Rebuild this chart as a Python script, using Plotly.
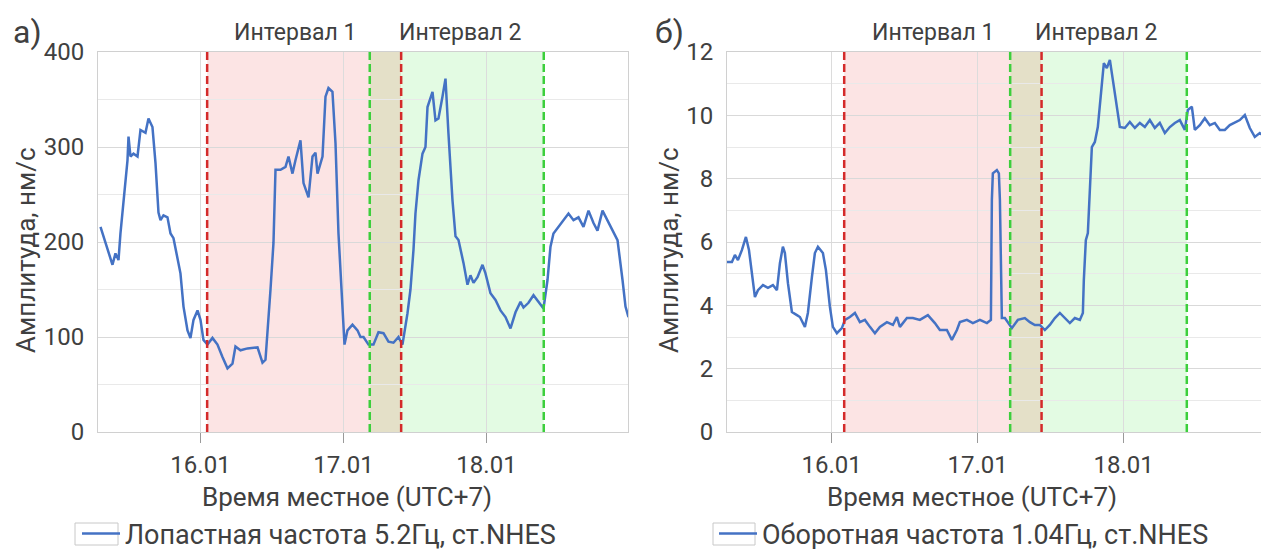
import pandas as pd
import plotly.graph_objects as go

# ---------------- data (hours from 16.01 00:00, local time) ----------------
base_day = "2021-01-16 00:00"
x_range_hours = [-17.2, 71.75]

hours_a = [-16.78, -14.77, -14.27, -13.76, -13.43, -12.25, -12.08, -11.75, -11.24, -10.57,
           -10.07, -9.23, -8.73, -8.06, -7.55, -7.05, -6.71, -6.21, -5.54, -5.03,
           -4.53, -3.36, -2.85, -2.18, -1.68, -1.17, -0.50, 0.0, 0.50, 1.17,
           2.01, 2.85, 3.69, 4.53, 5.37, 5.87, 6.71, 7.89, 9.57, 10.41,
           10.91, 11.41, 11.75, 12.25, 12.59, 13.43, 14.27, 14.77, 15.44, 15.94,
           16.78, 17.29, 18.13, 18.80, 19.30, 19.64, 20.48, 20.98, 21.48, 22.15,
           22.66, 23.16, 23.83, 24.17, 24.67, 25.51, 26.35, 26.85, 27.36, 28.20,
           29.03, 29.87, 30.71, 31.55, 32.39, 33.23, 33.90, 34.74, 35.24, 35.75,
           36.08, 36.59, 37.26, 37.76, 38.10, 38.94, 39.44, 39.94, 40.61, 41.12,
           41.62, 42.29, 42.80, 43.30, 44.14, 44.81, 45.31, 45.82, 46.49, 47.33,
           47.83, 48.67, 49.51, 50.35, 51.19, 52.03, 52.87, 53.71, 54.21, 55.05,
           55.89, 56.73, 57.57, 58.24, 58.74, 59.24, 60.08, 60.92, 61.76, 62.60,
           63.44, 64.28, 65.12, 65.96, 66.63, 67.47, 68.31, 69.15, 69.99, 70.83,
           71.33, 71.83]
values_a = [216, 176, 188, 181, 209, 286, 311, 290, 293, 290,
            318, 315, 330, 321, 283, 231, 223, 228, 226, 209,
            204, 167, 132, 107, 99, 118, 128, 118, 97, 92,
            99, 92, 79, 67, 72, 90, 86, 88, 89, 73,
            76, 115, 150, 199, 276, 276, 279, 290, 272, 286,
            307, 262, 247, 290, 294, 272, 290, 353, 362, 358,
            304, 209, 125, 92, 107, 113, 107, 100, 100, 92,
            92, 105, 104, 95, 94, 100, 92, 125, 150, 192,
            230, 265, 293, 300, 342, 358, 328, 330, 353, 372,
            314, 244, 206, 202, 178, 155, 165, 157, 163, 176,
            167, 146, 139, 128, 121, 109, 126, 137, 131, 136,
            144, 137, 130, 160, 195, 209, 216, 223, 230, 223,
            226, 216, 233, 220, 212, 233, 223, 212, 202, 160,
            132, 121]

hours_b = [-17.21, -16.39, -15.90, -15.40, -14.74, -14.09, -13.59, -13.10, -12.61, -12.11,
           -11.29, -10.47, -9.65, -8.99, -8.50, -8.01, -7.68, -7.18, -6.53, -5.70,
           -5.21, -4.39, -3.90, -3.24, -2.75, -2.25, -1.43, -0.94, -0.28, 0.21,
           0.87, 1.69, 2.19, 3.01, 3.83, 4.65, 5.47, 6.30, 7.12, 7.94,
           9.09, 10.08, 10.73, 11.23, 12.38, 13.36, 14.51, 15.83, 16.98, 17.80,
           18.95, 19.77, 20.60, 21.09, 22.24, 23.23, 24.38, 25.53, 26.19, 26.35,
           26.51, 27.17, 27.50, 27.67, 27.83, 27.99, 28.49, 29.64, 30.62, 31.77,
           32.60, 33.42, 34.24, 35.06, 35.88, 36.71, 37.53, 38.35, 39.17, 39.99,
           40.82, 41.31, 41.47, 41.80, 42.13, 42.79, 43.28, 43.77, 44.43, 44.76,
           45.25, 45.75, 46.24, 46.90, 47.39, 48.21, 49.03, 49.86, 50.68, 51.50,
           52.32, 53.14, 53.96, 54.79, 55.61, 56.43, 57.25, 58.08, 58.57, 59.23,
           59.72, 60.54, 61.36, 62.18, 63.01, 63.83, 64.65, 65.47, 66.29, 67.11,
           67.94, 68.76, 69.58, 70.40, 71.22, 71.72]
values_b = [5.37, 5.37, 5.59, 5.43, 5.75, 6.16, 5.75, 5.02, 4.26, 4.48,
            4.64, 4.55, 4.64, 4.48, 5.33, 5.85, 5.65, 4.70, 3.79, 3.69,
            3.63, 3.32, 3.76, 4.89, 5.65, 5.85, 5.65, 5.12, 3.95, 3.32,
            3.12, 3.28, 3.54, 3.63, 3.76, 3.47, 3.54, 3.32, 3.12, 3.32,
            3.47, 3.38, 3.63, 3.32, 3.60, 3.60, 3.54, 3.69, 3.44, 3.22,
            3.22, 2.91, 3.22, 3.47, 3.54, 3.44, 3.54, 3.44, 3.54, 7.33,
            8.17, 8.27, 8.17, 7.33, 5.75, 3.60, 3.60, 3.28, 3.54, 3.60,
            3.47, 3.38, 3.38, 3.22, 3.38, 3.60, 3.76, 3.60, 3.44, 3.60,
            3.54, 3.76, 4.80, 6.06, 6.28, 9.00, 9.16, 9.63, 11.12, 11.65,
            11.49, 11.75, 11.12, 10.17, 9.63, 9.60, 9.79, 9.60, 9.76, 9.63,
            9.85, 9.60, 9.76, 9.44, 9.63, 9.76, 9.85, 9.54, 10.17, 10.27,
            9.54, 9.69, 9.91, 9.69, 9.76, 9.54, 9.54, 9.69, 9.76, 9.85,
            10.01, 9.60, 9.32, 9.44, 9.32, 9.38]

# interval boundaries (hours from 16.01 00:00): start1, start2, end1, end2
bounds_a = [1.12, 28.41, 33.68, 57.61]
bounds_b = [2.07, 29.36, 34.52, 58.40]

series_names = ["Лопастная частота 5.2Гц, ст.NHES", "Оборотная частота 1.04Гц, ст.NHES"]
panel_letters = ["а)", "б)"]
interval_labels = ["Интервал 1", "Интервал 2"]
y_title = "Амплитуда, нм/с"
x_title = "Время местное (UTC+7)"
y_ranges = [[0, 400], [0, 12]]
y_major = [100, 2]
y_minor = [50, 1]

# ---------------- helpers ----------------
t0 = pd.Timestamp(base_day)


def to_time(h):
    return t0 + pd.to_timedelta(h, unit="h")


W, H = 1269, 549
OFF = 8  # page body margin of the html page
FONT = "Roboto"
TXT = "#404040"
LINE_BLUE = "#4472C4"
PINK = "#fce4e4"
GREEN = "#e3fbe3"
OVERLAP = "#e4e0c8"
RED = "#d42a2a"
LGREEN = "#3ccf3c"


def fx(p):
    return (p - OFF) / W


def fy(p):
    return 1 - (p - OFF) / H


fig = go.Figure()

fig.add_trace(go.Scatter(x=to_time(pd.Series(hours_a)), y=values_a, mode="lines",
                         name=series_names[0], line=dict(color=LINE_BLUE, width=2.5),
                         xaxis="x", yaxis="y", legend="legend"))
fig.add_trace(go.Scatter(x=to_time(pd.Series(hours_b)), y=values_b, mode="lines",
                         name=series_names[1], line=dict(color=LINE_BLUE, width=2.5),
                         xaxis="x2", yaxis="y2", legend="legend2"))

# plot-area geometry in page pixels
px_left = [(98, 628), (727, 1268)]
py_top, py_bot = 52, 432

for i, (xl, xr) in enumerate(px_left):
    sfx = "" if i == 0 else str(i + 1)
    fig.layout["xaxis" + sfx] = dict(
        domain=[fx(xl), fx(xr)], anchor="y" + sfx, type="date",
        range=[to_time(x_range_hours[0]), to_time(x_range_hours[1])],
        tick0=t0, dtick=86400000, tickformat="%d.%m",
        showgrid=True, gridcolor="#dcdcdc", gridwidth=1,
        ticks="outside", ticklen=10, tickcolor="#9a9a9a", tickwidth=1,
        ticklabelstandoff=1, zeroline=False, automargin=False,
        showline=True, linecolor="#d0d0d0", linewidth=1, mirror=True,
        tickfont=dict(family=FONT, size=24, color=TXT),
    )
    fig.layout["yaxis" + sfx] = dict(
        domain=[fy(py_bot), fy(py_top)], anchor="x" + sfx,
        range=y_ranges[i], dtick=y_major[i], tick0=0,
        showgrid=True, gridcolor="#d9d9d9", gridwidth=1,
        minor=dict(dtick=y_minor[i], showgrid=True, gridcolor="#e9e9e9", gridwidth=1),
        zeroline=False, ticks="", ticklabelstandoff=8, automargin=False,
        showline=True, linecolor="#d0d0d0", linewidth=1, mirror=True,
        tickfont=dict(family=FONT, size=24, color=TXT),
    )

# interval shading and boundary lines
shapes = []
for i, bounds in enumerate([bounds_a, bounds_b]):
    xr = "x" if i == 0 else "x2"
    yr = ("y" if i == 0 else "y2") + " domain"
    s1, s2, e1, e2 = [to_time(b) for b in bounds]
    for a, b, c in [(s1, s2, PINK), (s2, e1, OVERLAP), (e1, e2, GREEN)]:
        shapes.append(dict(type="rect", xref=xr, yref=yr, x0=a, x1=b, y0=0, y1=1,
                           fillcolor=c, line=dict(width=0), layer="below"))
    for xv, col in [(s1, RED), (s2, LGREEN), (e1, RED), (e2, LGREEN)]:
        shapes.append(dict(type="line", xref=xr, yref=yr, x0=xv, x1=xv, y0=0, y1=1,
                           line=dict(color=col, width=2.5, dash="8px,4px"), layer="above"))

# legend symbol boxes
for bx in [(75, 118), (713, 755)]:
    shapes.append(dict(type="rect", xref="paper", yref="paper",
                       x0=fx(bx[0]), x1=fx(bx[1]), y0=fy(545), y1=fy(523),
                       line=dict(color="#c8c8c8", width=1), fillcolor="rgba(0,0,0,0)"))

annotations = []
for lx, txt in [(27, panel_letters[0]), (669, panel_letters[1])]:
    annotations.append(dict(text=txt, x=fx(lx), y=fy(32), xref="paper", yref="paper",
                            showarrow=False, xanchor="center", yanchor="middle",
                            font=dict(family=FONT, size=32, color=TXT)))
for lx, txt in [(295, interval_labels[0]), (460, interval_labels[1]),
                (933, interval_labels[0]), (1096, interval_labels[1])]:
    annotations.append(dict(text=txt, x=fx(lx), y=fy(33), xref="paper", yref="paper",
                            showarrow=False, xanchor="center", yanchor="middle",
                            font=dict(family=FONT, size=23, color=TXT)))
for lx in [347, 972]:
    annotations.append(dict(text=x_title, x=fx(lx), y=fy(497), xref="paper", yref="paper",
                            showarrow=False, xanchor="center", yanchor="middle",
                            font=dict(family=FONT, size=26, color=TXT)))
for lx in [26, 669]:
    annotations.append(dict(text=y_title, x=fx(lx), y=fy(250), xref="paper", yref="paper",
                            showarrow=False, xanchor="center", yanchor="middle", textangle=-90,
                            font=dict(family=FONT, size=26, color=TXT)))

legend_common = dict(orientation="h", xanchor="left", yanchor="middle",
                     bgcolor="rgba(0,0,0,0)", borderwidth=0, itemwidth=38,
                     font=dict(family=FONT, size=27, color=TXT))

fig.update_layout(
    width=W, height=H,
    margin=dict(l=0, r=0, t=0, b=0, pad=0, autoexpand=False),
    paper_bgcolor="white", plot_bgcolor="white",
    shapes=shapes, annotations=annotations,
    showlegend=True,
    legend=dict(x=fx(77), y=fy(534), **legend_common),
    legend2=dict(x=fx(714), y=fy(534), **legend_common),
)

fig.write_html("out.html")
